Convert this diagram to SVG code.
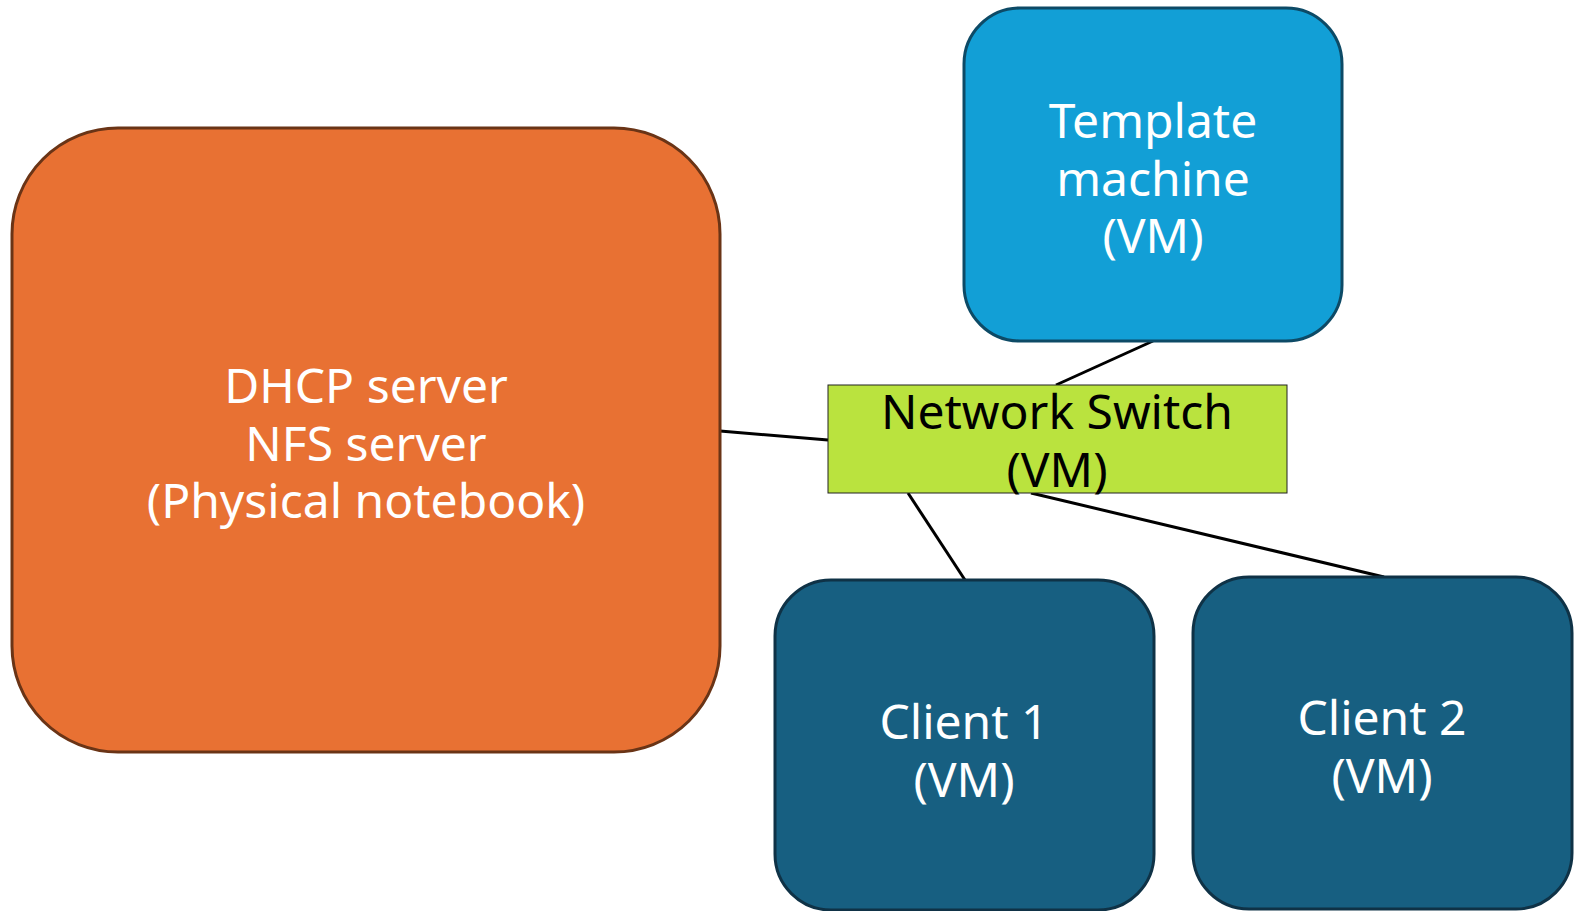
<svg xmlns="http://www.w3.org/2000/svg" width="1581" height="911" viewBox="0 0 1581 911">
<style>
.t{font-family:"Noto Sans","Open Sans","Liberation Sans",sans-serif;font-size:48px;text-anchor:middle;fill:#ffffff}
.k{fill:#000000}
.c{stroke:#000000;stroke-width:3;fill:none}
.client{fill:#175f81;stroke:#0f3246;stroke-width:3}
</style>
<rect width="1581" height="911" fill="#ffffff"/>
<g id="connectors">
<line class="c" x1="720" y1="431" x2="828" y2="440"/>
<line class="c" x1="1153" y1="341" x2="1056" y2="385"/>
<line class="c" x1="908" y1="493" x2="965" y2="580"/>
<line class="c" x1="1031" y1="493" x2="1384" y2="577"/>
</g>
<g id="dhcp">
<rect x="12" y="128" width="708" height="624" rx="106" ry="106" fill="#e87133" stroke="#6a3416" stroke-width="3"/>
<text class="t" x="366" y="403">DHCP server</text>
<text class="t" x="366" y="460.5">NFS server</text>
<text class="t" x="366" y="518">(Physical notebook)</text>
</g>
<g id="template">
<rect x="964" y="8" width="378" height="333" rx="56" ry="56" fill="#129fd6" stroke="#0d4a66" stroke-width="3"/>
<text class="t" x="1153" y="138">Template</text>
<text class="t" x="1153" y="195.5">machine</text>
<text class="t" x="1153" y="253">(VM)</text>
</g>
<g id="switch">
<rect x="828" y="385" width="459" height="108" fill="#bae33e" stroke="#222222" stroke-width="1"/>
<text class="t k" x="1057" y="429">Network Switch</text>
<text class="t k" x="1057" y="486.5">(VM)</text>
</g>
<g id="client1">
<rect class="client" x="775" y="580" width="379" height="330" rx="56" ry="56"/>
<text class="t" x="964" y="739">Client 1</text>
<text class="t" x="964" y="796.5">(VM)</text>
</g>
<g id="client2">
<rect class="client" x="1193" y="577" width="379" height="332" rx="56" ry="56"/>
<text class="t" x="1382" y="735">Client 2</text>
<text class="t" x="1382" y="792.5">(VM)</text>
</g>
</svg>
